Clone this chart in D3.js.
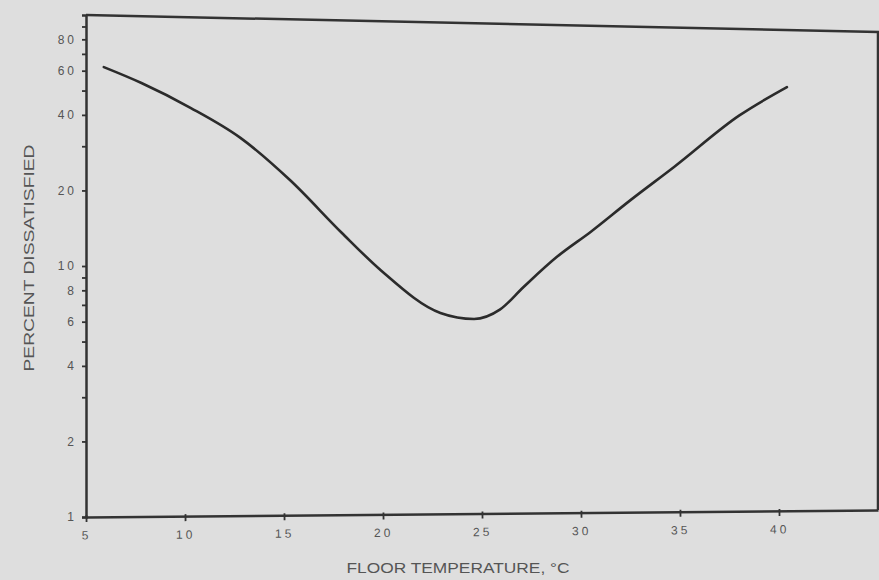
<!DOCTYPE html>
<html>
<head>
<meta charset="utf-8">
<script src="https://cdn.jsdelivr.net/npm/d3@7"></script>
<style>
  body { margin: 0; background: #dedede; }
  svg { display: block; font-family: "Liberation Sans", Arial, sans-serif; }
</style>
</head>
<body>
<script>
// floor temperature (deg C) vs percent dissatisfied
var temps = [5.9, 7.8, 10.3, 12.8, 15.3, 17.9, 19.9, 22.9, 24.6, 25.9, 27.1, 28.8, 30.5, 32.5, 34.7, 38.0, 40.4];
var pct   = [62, 53.6, 42.6, 32.4, 22.0, 13.6, 9.6, 6.5, 6.15, 6.7, 8.25, 10.9, 13.7, 18.3, 24.8, 39.8, 51.6];

var xTicks = [5, 10, 15, 20, 25, 30, 35, 40];
var yTicks = [1, 2, 3, 4, 5, 6, 7, 8, 9, 10, 20, 30, 40, 50, 60, 70, 80, 90];
var yLabelled = [1, 2, 4, 6, 8, 10, 20, 40, 60, 80];

var width = 879, height = 580;

var svg = d3.select("body").append("svg")
            .attr("width", width)
            .attr("height", height);

var x = d3.scaleLinear().domain([5, 45]).range([86, 878]);
var y = d3.scaleLog().domain([1, 100]).range([517, 15]);

var ink = "#333";

// frame: top and right edges (scan is a little skewed)
svg.append("path")
   .attr("d", "M" + x(5) + "," + y(100) + "L" + x(45) + "," + (y(100) + 17) + "L" + x(45) + "," + (y(1) - 7))
   .attr("fill", "none")
   .attr("stroke", ink)
   .attr("stroke-width", 2.5);

// y axis
var yAxis = d3.axisLeft(y)
              .tickValues(yTicks)
              .tickSize(4)
              .tickFormat(d => yLabelled.indexOf(d) >= 0 ? d : "");

var gy = svg.append("g")
            .attr("transform", "translate(" + x(5) + ",0)")
            .call(yAxis);

gy.select(".domain").attr("stroke", ink).attr("stroke-width", 2.5);
gy.selectAll(".tick line").attr("stroke", ink).attr("stroke-width", 1.8)
  .attr("x1", 1);
gy.selectAll(".tick text")
  .attr("x", -9)
  .attr("fill", "#555")
  .attr("font-size", 12)
  .attr("letter-spacing", 3);

// x axis, tilted slightly like the scan
var xAxis = d3.axisBottom(x)
              .tickValues(xTicks)
              .tickSize(5)
              .tickSizeOuter(0);

var gx = svg.append("g")
            .attr("transform", "translate(0," + y(1) + ") rotate(-0.5," + x(5) + ",0)")
            .call(xAxis);

gx.select(".domain").attr("stroke", ink).attr("stroke-width", 2.5);
gx.selectAll(".tick line").attr("stroke", ink).attr("stroke-width", 1.8)
  .attr("y1", -2);
gx.selectAll(".tick text")
  .attr("y", 14)
  .attr("fill", "#555")
  .attr("font-size", 12)
  .attr("letter-spacing", 3);

// curve
var line = d3.line()
             .x((d, i) => x(temps[i]))
             .y(d => y(d))
             .curve(d3.curveMonotoneX);

svg.append("path")
   .datum(pct)
   .attr("d", line)
   .attr("fill", "none")
   .attr("stroke", "#2b2b2b")
   .attr("stroke-width", 2.6)
   .attr("stroke-linecap", "round");

// axis titles
svg.append("text")
   .attr("x", 458)
   .attr("y", 573)
   .attr("text-anchor", "middle")
   .attr("font-size", 14)
   .attr("fill", "#555")
   .attr("textLength", 223)
   .attr("lengthAdjust", "spacingAndGlyphs")
   .text("FLOOR TEMPERATURE, °C");

svg.append("text")
   .attr("transform", "translate(34,258) rotate(-90)")
   .attr("text-anchor", "middle")
   .attr("font-size", 15)
   .attr("fill", "#555")
   .attr("textLength", 227)
   .attr("lengthAdjust", "spacingAndGlyphs")
   .text("PERCENT DISSATISFIED");
</script>
</body>
</html>
